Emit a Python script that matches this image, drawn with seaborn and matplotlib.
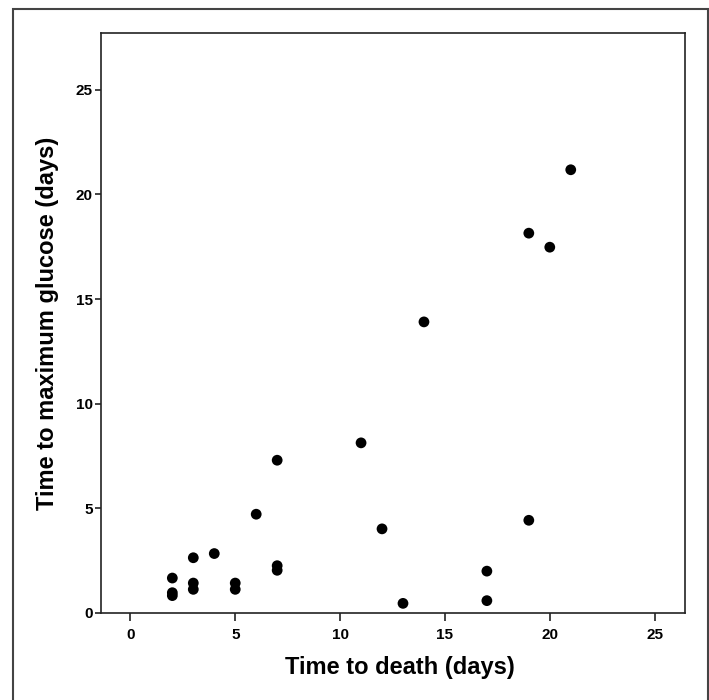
import pandas as pd
import matplotlib.pyplot as plt
import seaborn as sns
from matplotlib.patches import Rectangle

# values
days_to_death = [2, 2, 2, 3, 3, 3, 4, 5, 5, 6, 7, 7, 7, 11, 12,
                 13, 14, 17, 17, 19, 19, 20, 21]
days_to_max_glucose = [1.67, 0.97, 0.83, 2.64, 1.43, 1.13, 2.84, 1.43, 1.13,
                       4.72, 7.30, 2.26, 2.04, 8.13, 4.02,
                       0.46, 13.91, 2.00, 0.59, 18.15, 4.43, 17.48, 21.18]
ticks = [0, 5, 10, 15, 20, 25]

data = pd.DataFrame({"death": days_to_death, "glucose": days_to_max_glucose})

sns.set_style("ticks")
plt.rcParams['font.family'] = ['Liberation Sans', 'DejaVu Sans']
plt.rcParams['font.weight'] = 'bold'
plt.rcParams['text.color'] = 'black'
plt.rcParams['axes.labelcolor'] = 'black'
plt.rcParams['xtick.color'] = 'black'
plt.rcParams['ytick.color'] = 'black'

fig = plt.figure(figsize=(7.09, 7.00), dpi=100)
ax = fig.add_axes([0.1425, 0.1243, 0.8237, 0.8281])

sns.scatterplot(data=data, x="death", y="glucose", ax=ax,
                color="black", edgecolor="none", s=60, legend=False)

ax.set_xlim(-1.4, 26.45)
ax.set_ylim(0, 27.7)
ax.set_xticks(ticks)
ax.set_yticks(ticks)
ax.set_xlabel("Time to death (days)", fontsize=17, fontweight="bold", labelpad=12)
ax.xaxis.set_label_coords(0.512, -0.075)
ax.set_ylabel("Time to maximum glucose (days)", fontsize=17, fontweight="bold", labelpad=12)
ax.tick_params(axis="x", length=5.5, width=1.2, pad=5, labelsize=11, color="#222222")
ax.tick_params(axis="y", length=4.5, width=1.2, pad=1.5, labelsize=11, color="#222222")
for lbl in ax.get_xticklabels() + ax.get_yticklabels():
    lbl.set_fontweight("bold")
for side in ["left", "right", "top", "bottom"]:
    ax.spines[side].set_visible(True)
    ax.spines[side].set_linewidth(1.2)
    ax.spines[side].set_color("#222222")

# outer frame around the figure
fig.patches.append(Rectangle((12.5 / 709, -0.02), (707.7 - 12.5) / 709, 1.02 - 8.5 / 700,
                             transform=fig.transFigure, fill=False,
                             edgecolor="#444444", linewidth=1.5))

plt.savefig("out.png", dpi=100)
